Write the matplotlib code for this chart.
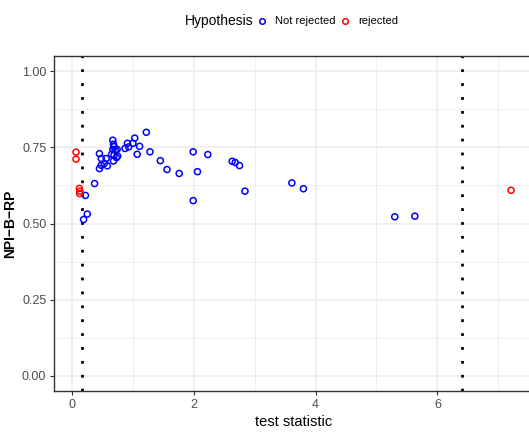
import matplotlib
matplotlib.use('Agg')
import matplotlib.pyplot as plt
from matplotlib.lines import Line2D
from matplotlib.ticker import MultipleLocator, FormatStrFormatter

# test statistic / NPI-B-RP values, split by hypothesis outcome
stat_ok = [0.22, 0.19, 0.25, 0.37, 0.45, 0.48, 0.45, 0.48, 0.53, 0.56, 0.58,
           0.67, 0.68, 0.69, 0.67, 0.71, 0.74, 0.65, 0.69, 0.68, 0.73, 0.75,
           0.87, 0.91, 0.93, 1.00, 1.03, 1.11, 1.07, 1.22, 1.28, 1.45, 1.56,
           1.76, 1.99, 2.06, 1.99, 2.23, 2.63, 2.68, 2.75, 2.84, 3.61, 3.80,
           5.30, 5.63]
rp_ok = [0.592, 0.513, 0.531, 0.631, 0.729, 0.713, 0.680, 0.691, 0.697, 0.713,
         0.689, 0.773, 0.760, 0.752, 0.743, 0.741, 0.743, 0.727, 0.724, 0.705,
         0.716, 0.721, 0.746, 0.763, 0.751, 0.763, 0.780, 0.753, 0.727, 0.799,
         0.735, 0.706, 0.677, 0.664, 0.735, 0.670, 0.575, 0.726, 0.704, 0.700,
         0.690, 0.606, 0.633, 0.614, 0.522, 0.524]
stat_rej = [0.066, 0.066, 0.12, 0.13, 0.125, 7.21]
rp_rej = [0.734, 0.711, 0.615, 0.606, 0.598, 0.609]

# critical values
crit = [0.165, 6.41]

groups = ['Not rejected', 'rejected']
colors = ['blue', 'red']

plt.rcParams['font.family'] = ['Liberation Sans', 'DejaVu Sans']

W, H = 529, 432
fig = plt.figure(figsize=(W / 100, H / 100), dpi=100)
ax = fig.add_axes([54 / W, 1 - 391.25 / H, 479 / W, 335.5 / H])

ax.set_xlim(-0.296, 7.57)
ax.set_ylim(-0.05, 1.05)
ax.xaxis.set_major_locator(MultipleLocator(2))
ax.xaxis.set_minor_locator(MultipleLocator(1))
ax.yaxis.set_major_locator(MultipleLocator(0.25))
ax.yaxis.set_minor_locator(MultipleLocator(0.125))
ax.yaxis.set_major_formatter(FormatStrFormatter('%.2f'))

ax.grid(which='major', color='#EBEBEB', linewidth=1.1)
ax.grid(which='minor', color='#EBEBEB', linewidth=0.55)
ax.set_axisbelow(True)
ax.tick_params(which='minor', length=0)
ax.tick_params(which='major', length=3, width=0.8, color='#333333',
               labelcolor='#4D4D4D', labelsize=9, pad=2.5)
for s in ax.spines.values():
    s.set_color('#333333')
    s.set_linewidth(1.0)

for c in crit:
    ax.axvline(c, color='black', linestyle=(0, (1, 4)), linewidth=2)

ax.scatter(stat_ok, rp_ok, s=19, facecolors='none', edgecolors=colors[0], linewidths=1.1, zorder=3)
ax.scatter(stat_rej, rp_rej, s=19, facecolors='none', edgecolors=colors[1], linewidths=1.1, zorder=3)

ax.set_xlabel('test statistic', fontsize=10.5, labelpad=3)
ax.set_ylabel('NPI\u2212B\u2212RP', fontsize=10, fontweight='bold')
ax.yaxis.set_label_coords((17 - 54) / 479, 0.5)

# legend across the top
ly = 1 - 21 / H
fig.text(185 / W, ly, 'Hypothesis', fontsize=10, va='center', ha='left')
for mx, tx, lab, col in zip([262, 345], [275, 358], groups, colors):
    fig.add_artist(Line2D([mx / W], [ly], marker='o', linestyle='none', markersize=4,
                          markerfacecolor='none', markeredgecolor=col, markeredgewidth=1.1))
    fig.text(tx / W, ly, lab, fontsize=8, va='center', ha='left')

fig.savefig('out.png', dpi=100)
